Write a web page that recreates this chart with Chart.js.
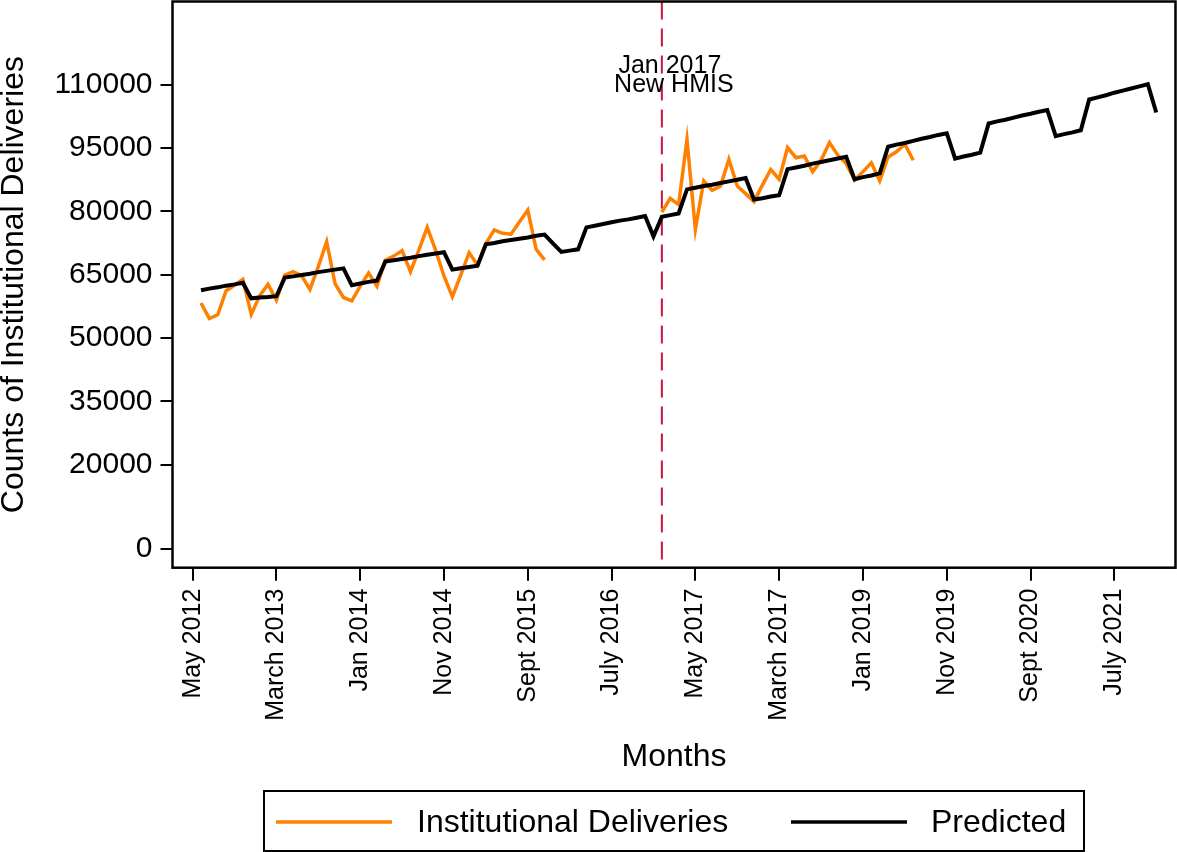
<!DOCTYPE html>
<html>
<head>
<meta charset="utf-8">
<title>Institutional Deliveries</title>
<script src="https://cdn.jsdelivr.net/npm/chart.js@4.4.1/dist/chart.umd.min.js"></script>
<style>
  html, body { margin: 0; padding: 0; background: #fff; }
  canvas { display: block; }
</style>
</head>
<body>
<canvas id="chart" width="1177" height="852"></canvas>
<script>
// month index 0 = May 2012, one step per month
const tickMonths = [0, 10, 20, 30, 40, 50, 60, 70, 80, 90, 100, 110];
const tickLabels = ["May 2012", "March 2013", "Jan 2014", "Nov 2014", "Sept 2015", "July 2016",
  "May 2017", "March 2017", "Jan 2019", "Nov 2019", "Sept 2020", "July 2021"];
const yTicks = [0, 20000, 35000, 50000, 65000, 80000, 95000, 110000];

const firstMonth = 1;
const deliveries = [
  58300, 54600, 55500, 61200, 62500, 63900, 55600, 60000, 62700, 59000,
  64900, 65700, 64800, 61500, 66900, 72800, 62900, 59600, 58800, 62300,
  65400, 62300, 68400, 69400, 70700, 65700, 70800, 76200, 70800, 64700,
  59800, 64900, 70200, 67300, 72400, 75600, 74800, 74600, 77500, 80300,
  71000, 68500,
  null, null, null, null, null, null, null, null, null, null, null, null, null,
  79800, 83100, 81600, 97000, 75700, 87200, 85000, 86000, 92300, 86000,
  84200, 82300, 86200, 89900, 87600, 95100, 92700, 93100, 89400, 92100,
  96300, 93300, 91300, 87400, 89400, 91500, 87200, 92900, 94100, 95900,
  92100
];
const predicted = [
  61300, 61700, 62000, 62400, 62700, 63100,
  59400, 59600, 59700, 59900,
  64300, 64600, 64900, 65200, 65600, 65900, 66200, 66500,
  62500, 62900, 63300, 63600,
  68100, 68400, 68700, 69000, 69400, 69700, 70000, 70300,
  66200, 66500, 66800, 67100,
  72200, 72500, 72900, 73200, 73500, 73800, 74200, 74500,
  72400, 70400, 70700, 71000,
  76200, 76600, 77000, 77400, 77800, 78100, 78500, 78900,
  74100,
  78700, 79100, 79500,
  85200, 85600, 86000, 86300, 86700, 87100, 87500, 87900,
  82800, 83100, 83500, 83800,
  90000, 90400, 90800, 91300, 91700, 92100, 92500, 92900,
  87600, 88100, 88500, 89000,
  95300, 95800, 96200, 96700, 97200, 97600, 98100, 98500,
  92500, 93000, 93400, 93900,
  100800, 101300, 101700, 102200, 102700, 103100, 103600, 104000,
  97800, 98300, 98700, 99200,
  106500, 107000, 107500, 108100, 108600, 109100, 109600, 110100,
  103400
];
const hmisMonth = 56;
const hmisText = ["Jan 2017", "New HMIS"];

const FONT = "'Liberation Sans', Arial, Helvetica, sans-serif";
const toPoints = (vals) => vals.map((v, i) => ({ x: firstMonth + i, y: v }));

const framePlugin = {
  id: "frame",
  beforeDatasetsDraw(chart) {
    const { ctx, chartArea, scales } = chart;
    const x = scales.x.getPixelForValue(hmisMonth);
    ctx.save();
    ctx.strokeStyle = "#c8163e";
    ctx.lineWidth = 2;
    ctx.setLineDash([18, 9]);
    ctx.beginPath();
    ctx.moveTo(x, chartArea.top);
    ctx.lineTo(x, chartArea.bottom);
    ctx.stroke();
    ctx.restore();
  },
  afterDraw(chart) {
    const { ctx, chartArea, scales } = chart;
    ctx.save();
    // plot frame
    ctx.strokeStyle = "#000";
    ctx.lineWidth = 2.5;
    ctx.strokeRect(chartArea.left, chartArea.top, chartArea.right - chartArea.left, chartArea.bottom - chartArea.top);

    // annotation text
    const x = scales.x.getPixelForValue(hmisMonth);
    ctx.fillStyle = "#000";
    ctx.font = "25px " + FONT;
    ctx.textAlign = "center";
    ctx.textBaseline = "middle";
    ctx.fillText(hmisText[0], x + 8, chartArea.top + 65);
    ctx.fillText(hmisText[1], x + 12, chartArea.top + 84);

    // legend box
    ctx.lineWidth = 2;
    ctx.strokeRect(264, 791, 820, 60);
    const items = [
      { lx: 276, tx: 417 },
      { lx: 791, tx: 931 }
    ];
    chart.data.datasets.forEach((ds, i) => {
      const it = items[i];
      ctx.strokeStyle = ds.borderColor;
      ctx.lineWidth = 3.5;
      ctx.beginPath();
      ctx.moveTo(it.lx, 822);
      ctx.lineTo(it.lx + 116, 822);
      ctx.stroke();
      ctx.fillStyle = "#000";
      ctx.font = "32px " + FONT;
      ctx.textAlign = "left";
      ctx.fillText(ds.label, it.tx, 823);
    });
    ctx.restore();
  }
};

new Chart(document.getElementById("chart"), {
  type: "line",
  data: {
    datasets: [
      {
        label: "Institutional Deliveries",
        data: toPoints(deliveries),
        borderColor: "#ff8000",
        borderWidth: 3.5,
        pointRadius: 0,
        spanGaps: false,
        order: 1
      },
      {
        label: "Predicted",
        data: toPoints(predicted),
        borderColor: "#000000",
        borderWidth: 4,
        pointRadius: 0,
        order: 0
      }
    ]
  },
  options: {
    responsive: false,
    animation: false,
    layout: { padding: { top: 1.5, right: 1.5, bottom: 62, left: 0 } },
    plugins: { legend: { display: false }, tooltip: { enabled: false } },
    scales: {
      x: {
        type: "linear",
        min: -2.4,
        max: 117.3,
        afterBuildTicks: (s) => { s.ticks = tickMonths.map((v) => ({ value: v })); },
        afterFit: (s) => { s.height = 222.3; s.paddingLeft = 0; s.paddingRight = 0; },
        ticks: {
          callback: (v, i) => tickLabels[i],
          autoSkip: false,
          minRotation: 90,
          maxRotation: 90,
          padding: 8,
          color: "#000",
          font: { family: FONT, size: 25 }
        },
        grid: { drawOnChartArea: false, tickLength: 13, color: "#000", lineWidth: 2 },
        border: { display: false },
        title: {
          display: true,
          text: "Months",
          color: "#000",
          font: { family: FONT, size: 32 },
          padding: { top: 0, bottom: 14 }
        }
      },
      y: {
        min: -4400,
        max: 129700,
        afterBuildTicks: (s) => { s.ticks = yTicks.map((v) => ({ value: v })); },
        afterFit: (s) => { s.width = 172.5; s.paddingTop = 0; s.paddingBottom = 0; },
        ticks: {
          callback: (v) => String(v),
          padding: 8,
          color: "#000",
          font: { family: FONT, size: 30 }
        },
        grid: { drawOnChartArea: false, tickLength: 12, color: "#000", lineWidth: 2 },
        border: { display: false },
        title: {
          display: true,
          text: "Counts of Institutional Deliveries",
          color: "#000",
          font: { family: FONT, size: 32, lineHeight: 0.9 },
          padding: 0
        }
      }
    }
  },
  plugins: [framePlugin]
});
</script>
</body>
</html>
